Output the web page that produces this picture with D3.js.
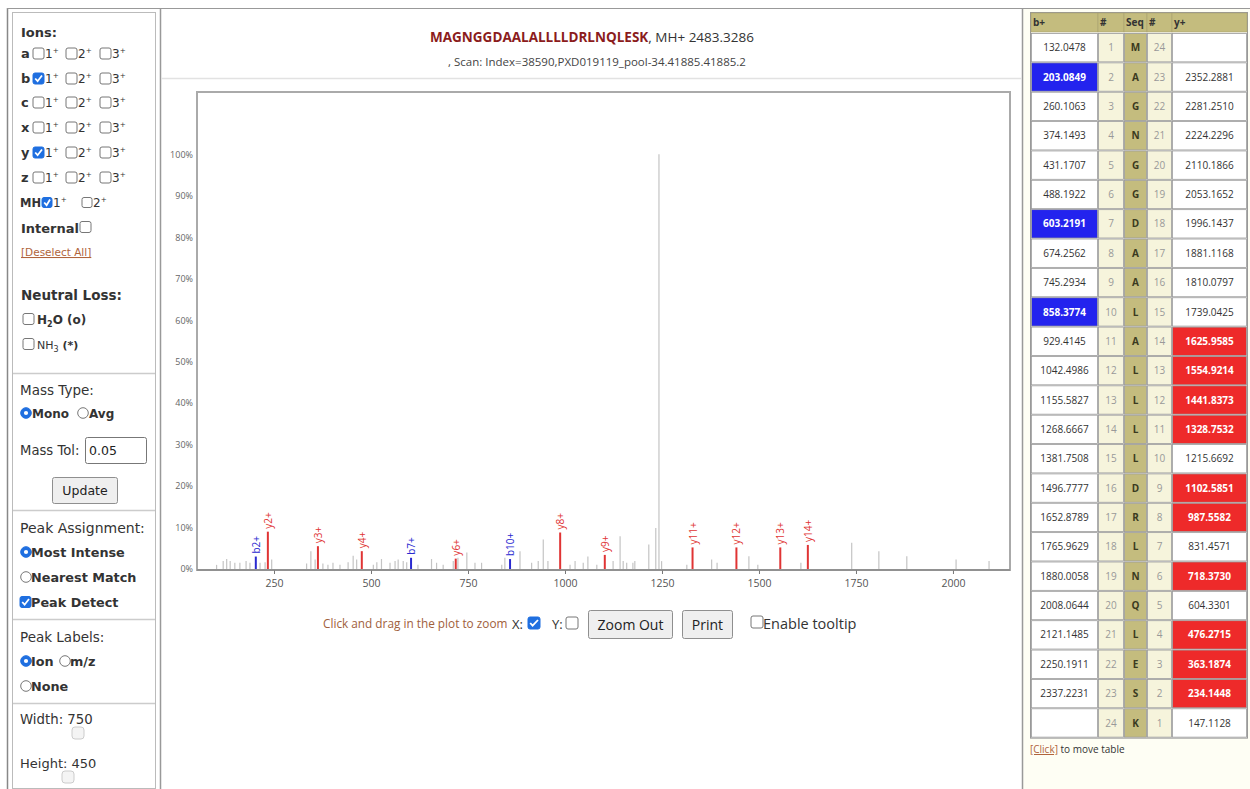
<!DOCTYPE html>
<html><head><meta charset="utf-8">
<script src="https://cdn.jsdelivr.net/npm/d3@7"></script>
<style>
body{margin:0;background:#fff;}
svg{display:block;font-family:"Open Sans","Noto Sans",sans-serif;}
</style>
</head><body>
<svg id="c" width="1250" height="789"></svg>
<script>
// ---------------- data ----------------
const peptide = "MAGNGGDAALALLLLDRLNQLESK";
const precursorText = ", MH+ 2483.3286";
const scanInfo = ", Scan: Index=38590,PXD019119_pool-34.41885.41885.2";
const xTicks = [250, 500, 750, 1000, 1250, 1500, 1750, 2000];
const yTicks = [0, 10, 20, 30, 40, 50, 60, 70, 80, 90, 100];
const xDomain = [51.5, 2147];
const yDomain = [0, 115];

// unannotated peaks (m/z, relative intensity %)
const peakMz  = [102,119,128,137,149,162,178,188,214,227,244,334,345,356,376,389,402,420,441,454,463,506,515,527,549,562,570,583,592,621,656,669,686,712,724,747,768,785,837,845,884,914,931,944,956,1013,1026,1047,1059,1082,1124,1142,1150,1159,1175,1180,1216,1234,1242.2,1249,1314,1378,1392,1474,1497,1608,1739,1809,1881,2008,2093];
const peakInt = [1.0,1.9,2.4,1.9,1.5,1.5,1.9,1.5,1.5,1.6,2.3,1.3,4.3,2.3,1.3,1.0,1.5,1.0,1.6,3.2,2.3,1.0,1.6,2.4,1.5,1.9,2.3,1.9,1.6,1.0,2.4,1.5,1.0,1.9,2.7,4.0,1.5,1.5,1.0,2.7,4.3,1.5,1.9,7.1,1.9,1.0,1.9,1.5,3.0,1.0,1.9,7.9,1.9,1.5,1.5,1.9,5.9,9.9,100,1.9,1.0,2.3,1.5,3.1,1.0,1.5,6.3,4.3,3.1,2.3,1.9];

// annotated fragment ions
const ionLabels = ["b2+","y2+","y3+","y4+","b7+","y6+","b10+","y8+","y9+","y11+","y12+","y13+","y14+"];
const ionMz     = [203.0849,234.1448,363.1874,476.2715,603.2191,718.3730,858.3774,987.5582,1102.5851,1328.7532,1441.8373,1554.9214,1625.9585];
const ionInt    = [3.0,9.0,5.5,4.3,2.7,2.5,2.4,8.8,3.4,5.2,5.2,5.2,5.8];
const ionType   = ["b","y","y","y","b","y","b","y","y","y","y","y","y"];

// fragment table
const residues = ["M","A","G","N","G","G","D","A","A","L","A","L","L","L","L","D","R","L","N","Q","L","E","S","K"];
const bIons = ["132.0478","203.0849","260.1063","374.1493","431.1707","488.1922","603.2191","674.2562","745.2934","858.3774","929.4145","1042.4986","1155.5827","1268.6667","1381.7508","1496.7777","1652.8789","1765.9629","1880.0058","2008.0644","2121.1485","2250.1911","2337.2231",""];
const yIons = ["","2352.2881","2281.2510","2224.2296","2110.1866","2053.1652","1996.1437","1881.1168","1810.0797","1739.0425","1625.9585","1554.9214","1441.8373","1328.7532","1215.6692","1102.5851","987.5582","831.4571","718.3730","604.3301","476.2715","363.1874","234.1448","147.1128"];
const bMatched = [2, 7, 10];
const yMatched = [2, 3, 4, 6, 8, 9, 11, 12, 13, 14];

// ---------------- drawing ----------------
const svg = d3.select("#c");
const FONT = '"Open Sans","Noto Sans",sans-serif';
const PFONT = '"DejaVu Sans",sans-serif';
const BLUE = "#1f6fe0";

function txt(g, x, y, s, o = {}) {
  return g.append("text").attr("x", x).attr("y", y).text(s)
    .attr("font-size", o.size || 12).attr("fill", o.fill || "#333")
    .attr("font-weight", o.bold ? "bold" : "normal")
    .attr("font-family", o.font || null)
    .attr("text-anchor", o.anchor || "start");
}
function checkbox(g, x, y, checked, s = 11) {
  g.append("rect").attr("x", x).attr("y", y - s / 2).attr("width", s).attr("height", s).attr("rx", 2)
    .attr("fill", checked ? BLUE : "#fff").attr("stroke", checked ? BLUE : "#777").attr("stroke-width", 1);
  if (checked) g.append("path").attr("d", `M${x+2.2},${y} L${x+4.6},${y+2.7} L${x+s-2},${y-3}`)
    .attr("fill", "none").attr("stroke", "#fff").attr("stroke-width", 1.8);
}
function radio(g, x, y, checked) {
  g.append("circle").attr("cx", x).attr("cy", y).attr("r", 5.3)
    .attr("fill", checked ? BLUE : "#fff").attr("stroke", checked ? BLUE : "#777");
  if (checked) g.append("circle").attr("cx", x).attr("cy", y).attr("r", 2.1).attr("fill", "#fff");
}
function button(g, x, y, w, h, label, size, font) {
  g.append("rect").attr("x", x).attr("y", y).attr("width", w).attr("height", h).attr("rx", 2)
    .attr("fill", "#efefef").attr("stroke", "#8f8f8f");
  txt(g, x + w / 2, y + h / 2 + size * 0.36, label, {size, anchor: "middle", fill: "#222", font});
}
function supText(g, x, y, base, sup, size) {
  const t = g.append("text").attr("x", x).attr("y", y).attr("font-size", size).attr("fill", "#333").attr("font-family", PFONT);
  t.append("tspan").text(base);
  t.append("tspan").text(sup).attr("font-size", size * 0.6).attr("dy", -size * 0.45);
  return t;
}

// ---- frames ----
const frame = svg.append("g");
frame.append("line").attr("x1", 7.5).attr("x2", 7.5).attr("y1", 8).attr("y2", 789).attr("stroke", "#888").attr("stroke-width", 1.5);
frame.append("rect").attr("x", 12.5).attr("y", 12.5).attr("width", 143).attr("height", 776).attr("fill", "#fff").attr("stroke", "#bbb");
frame.append("line").attr("x1", 7).attr("x2", 1250).attr("y1", 8.5).attr("y2", 8.5).attr("stroke", "#999");
frame.append("line").attr("x1", 160.5).attr("x2", 160.5).attr("y1", 8).attr("y2", 789).attr("stroke", "#999").attr("stroke-width", 1.5);
frame.append("rect").attr("x", 1023).attr("y", 9).attr("width", 227).attr("height", 780).attr("fill", "#fefef4");
frame.append("line").attr("x1", 1022.5).attr("x2", 1022.5).attr("y1", 8).attr("y2", 789).attr("stroke", "#999").attr("stroke-width", 1.5);
frame.append("line").attr("x1", 161).attr("x2", 1022).attr("y1", 78.5).attr("y2", 78.5).attr("stroke", "#e2e2e2").attr("stroke-width", 1.5);

// ---- left control panel ----
const L = svg.append("g").attr("font-family", PFONT);
txt(L, 21, 37, "Ions:", {size: 13, bold: true, font: PFONT});
const ionRows = [["a",58,[0,0,0]],["b",83,[1,0,0]],["c",107,[0,0,0]],["x",132,[0,0,0]],["y",157,[1,0,0]],["z",182,[0,0,0]]];
ionRows.forEach(([lab, y, chk]) => {
  txt(L, 21, y, lab, {size: 13, bold: true, font: PFONT});
  [[33, "1"], [66, "2"], [100, "3"]].forEach(([cx, n], i) => {
    checkbox(L, cx, y - 4.5, chk[i]);
    supText(L, cx + 12, y, n, "+", 12);
  });
});
txt(L, 20, 207, "MH", {size: 11.5, bold: true, font: PFONT});
checkbox(L, 42, 202.5, 1, 10); supText(L, 53, 207, "1", "+", 12);
checkbox(L, 82, 202.5, 0, 10); supText(L, 93, 207, "2", "+", 12);
txt(L, 21, 233, "Internal", {size: 13, bold: true, font: PFONT});
checkbox(L, 80, 227, 0);
txt(L, 21, 256, "[Deselect All]", {size: 10.5, fill: "#b0643c", font: PFONT}).attr("text-decoration", "underline");
txt(L, 21, 300, "Neutral Loss:", {size: 13.5, bold: true, font: PFONT});
checkbox(L, 23, 319, 0);
{ const t = L.append("text").attr("x", 37).attr("y", 324).attr("font-size", 12).attr("fill", "#333").attr("font-weight", "bold");
  t.append("tspan").text("H"); t.append("tspan").text("2").attr("font-size", 8).attr("dy", 3);
  t.append("tspan").text("O (o)").attr("dy", -3); }
checkbox(L, 23, 344, 0);
{ const t = L.append("text").attr("x", 37).attr("y", 349).attr("font-size", 11).attr("fill", "#333");
  t.append("tspan").text("NH"); t.append("tspan").text("3").attr("font-size", 8).attr("dy", 3);
  t.append("tspan").text(" (*)").attr("dy", -3).attr("font-weight", "bold"); }
[373, 510, 619, 703].forEach(y => L.append("line").attr("x1", 13).attr("x2", 155).attr("y1", y + 0.5).attr("y2", y + 0.5).attr("stroke", "#ccc").attr("stroke-width", 1.5));
txt(L, 20, 395, "Mass Type:", {size: 13.5, font: PFONT});
radio(L, 26, 413, 1); txt(L, 32, 418, "Mono", {size: 12, bold: true, font: PFONT});
radio(L, 83, 413, 0); txt(L, 89, 418, "Avg", {size: 12, bold: true, font: PFONT});
txt(L, 20, 455, "Mass Tol:", {size: 13.2, font: PFONT});
L.append("rect").attr("x", 85.5).attr("y", 437.5).attr("width", 61).attr("height", 26).attr("rx", 2).attr("fill", "#fff").attr("stroke", "#777");
txt(L, 89, 455, "0.05", {size: 12.5, fill: "#222", font: PFONT});
button(L, 52.5, 477.5, 65, 26, "Update", 12.5, PFONT);
txt(L, 20, 533, "Peak Assignment:", {size: 14, font: PFONT});
radio(L, 26, 552, 1); txt(L, 31, 557, "Most Intense", {size: 12.8, bold: true, font: PFONT});
radio(L, 26, 577, 0); txt(L, 31, 582, "Nearest Match", {size: 12.8, bold: true, font: PFONT});
checkbox(L, 20, 602, 1); txt(L, 31, 607, "Peak Detect", {size: 12.8, bold: true, font: PFONT});
txt(L, 20, 642, "Peak Labels:", {size: 13.5, font: PFONT});
radio(L, 26, 661, 1); txt(L, 31, 666, "Ion", {size: 12.8, bold: true, font: PFONT});
radio(L, 65, 661, 0); txt(L, 70, 666, "m/z", {size: 12.8, bold: true, font: PFONT});
radio(L, 26, 686, 0); txt(L, 31, 691, "None", {size: 12.8, bold: true, font: PFONT});
txt(L, 20, 724, "Width: 750", {size: 13.3, font: PFONT});
L.append("rect").attr("x", 72).attr("y", 727).attr("width", 12).attr("height", 12).attr("rx", 3).attr("fill", "#f4f4f4").attr("stroke", "#ccc");
txt(L, 20, 768, "Height: 450", {size: 13, font: PFONT});
L.append("rect").attr("x", 62).attr("y", 771).attr("width", 12).attr("height", 12).attr("rx", 3).attr("fill", "#f4f4f4").attr("stroke", "#ccc");

// ---- title ----
const T = svg.append("g");
{ const t = T.append("text").attr("x", 592).attr("y", 42).attr("text-anchor", "middle").attr("font-size", 13.5);
  t.append("tspan").text(peptide).attr("fill", "#8b1c1c").attr("font-weight", "bold");
  t.append("tspan").text(precursorText).attr("fill", "#333"); }
txt(T, 597, 66, scanInfo, {size: 11.5, anchor: "middle", fill: "#444"});

// ---- spectrum plot ----
const P = {left: 197, right: 1010, top: 92, bottom: 570};
const x = d3.scaleLinear().domain(xDomain).range([P.left, P.right]);
const y = d3.scaleLinear().domain(yDomain).range([P.bottom - 1, P.top]);
const G = svg.append("g");
G.append("rect").attr("x", P.left).attr("y", P.top).attr("width", P.right - P.left).attr("height", P.bottom - P.top)
  .attr("fill", "#fff").attr("stroke", "#aaa").attr("stroke-width", 2);

const xAxis = d3.axisBottom(x).tickValues(xTicks).tickSize(4).tickPadding(6).tickFormat(d3.format("d"));
const gx = G.append("g").attr("transform", `translate(0,${P.bottom})`).call(xAxis);
gx.select(".domain").remove();
gx.selectAll("line").attr("stroke", "#777");
gx.selectAll("text").attr("font-size", 10.5).attr("fill", "#555").attr("font-family", FONT);

const yAxis = d3.axisLeft(y).tickValues(yTicks).tickSize(0).tickPadding(4).tickFormat(d => d + "%");
const gy = G.append("g").attr("transform", `translate(${P.left},0)`).call(yAxis);
gy.select(".domain").remove();
gy.selectAll("text").attr("font-size", 9).attr("fill", "#666").attr("font-family", FONT);

const grayPeaks = peakMz.map((m, i) => ({m, v: peakInt[i]}));
G.selectAll("line.pk").data(grayPeaks).join("line").attr("class", "pk")
  .attr("x1", d => x(d.m)).attr("x2", d => x(d.m)).attr("y1", y(0)).attr("y2", d => y(d.v))
  .attr("stroke", "#c4c4c4").attr("stroke-width", 1.2);

const ions = ionLabels.map((l, i) => ({l, m: ionMz[i], v: ionInt[i], t: ionType[i]}));
const col = t => t === "b" ? "#2a2ad0" : "#e03434";
G.selectAll("line.ion").data(ions).join("line").attr("class", "ion")
  .attr("x1", d => x(d.m)).attr("x2", d => x(d.m)).attr("y1", y(0)).attr("y2", d => y(d.v))
  .attr("stroke", d => col(d.t)).attr("stroke-width", 2);
G.selectAll("text.ion").data(ions).join("text").attr("class", "ion")
  .attr("transform", d => `translate(${x(d.m) + 0.5},${y(d.v) - 3}) rotate(-90)`)
  .attr("dy", "0.35em").attr("font-size", 10).attr("fill", d => col(d.t)).text(d => d.l);
G.append("line").attr("x1", P.left).attr("x2", P.right).attr("y1", P.bottom).attr("y2", P.bottom).attr("stroke", "#888").attr("stroke-width", 1.5);

// ---- zoom controls ----
const Z = svg.append("g");
txt(Z, 323, 628, "Click and drag in the plot to zoom", {size: 11.8, fill: "#a0603c"});
txt(Z, 512, 629, "X:", {size: 13, fill: "#333"});
checkbox(Z, 528, 623, 1, 12);
txt(Z, 552, 629, "Y:", {size: 13, fill: "#333"});
checkbox(Z, 566, 623, 0, 12);
button(Z, 588.5, 610.5, 84, 28, "Zoom Out", 14);
button(Z, 682.5, 610.5, 50, 28, "Print", 14);
checkbox(Z, 751, 622, 0, 12);
txt(Z, 763, 629, "Enable tooltip", {size: 14.5, fill: "#333"});

// ---- fragment table ----
const R = svg.append("g");
const cols = [[1031, 1098], [1098, 1124], [1124, 1147], [1147, 1172], [1172, 1247]];
const headY = 13, headH = 19, rowY0 = 33, rowH = 29.36;
const OLIVE = "#c4bc7e", CREAM = "#f6f4dc";
R.append("rect").attr("x", 1030.5).attr("y", 12.5).attr("width", 217).attr("height", rowY0 + 24 * rowH - 12).attr("fill", "#fff").attr("stroke", "#999");
["b+", "#", "Seq", "#", "y+"].forEach((h, i) => {
  R.append("rect").attr("x", cols[i][0]).attr("y", headY).attr("width", cols[i][1] - cols[i][0]).attr("height", headH)
    .attr("fill", OLIVE).attr("stroke", "#a8a070").attr("stroke-width", 0.6);
  txt(R, cols[i][0] + 2, headY + 13, h, {size: 10, bold: true, fill: "#333"});
});
residues.forEach((r, i) => {
  const ry = rowY0 + i * rowH;
  const n = i + 1, yn = residues.length - i;
  const cells = [
    {v: bIons[i], fill: bMatched.includes(n) ? "#2323ee" : "#fff", hit: bMatched.includes(n)},
    {v: String(n), fill: CREAM, num: true},
    {v: r, fill: OLIVE, seq: true},
    {v: String(yn), fill: CREAM, num: true},
    {v: yIons[i], fill: yMatched.includes(yn) ? "#ee2a2a" : "#fff", hit: yMatched.includes(yn)}
  ];
  cells.forEach((c, j) => {
    R.append("rect").attr("x", cols[j][0] + 0.5).attr("y", ry + 0.5).attr("width", cols[j][1] - cols[j][0] - 1).attr("height", rowH - 1)
      .attr("fill", c.fill).attr("stroke", "#9a9a9a").attr("stroke-width", 0.8);
    txt(R, (cols[j][0] + cols[j][1]) / 2, ry + rowH / 2 + 3.6, c.v, {
      size: 10, anchor: "middle", bold: c.hit || c.seq,
      fill: c.hit ? "#fff" : c.num ? "#999" : c.seq ? "#3a3a20" : "#333"
    });
  });
});
{ const t = R.append("text").attr("x", 1030).attr("y", 753).attr("font-size", 10).attr("fill", "#333");
  t.append("tspan").text("[Click]").attr("fill", "#b0643c").attr("text-decoration", "underline");
  t.append("tspan").text(" to move table"); }
</script>
</body></html>
